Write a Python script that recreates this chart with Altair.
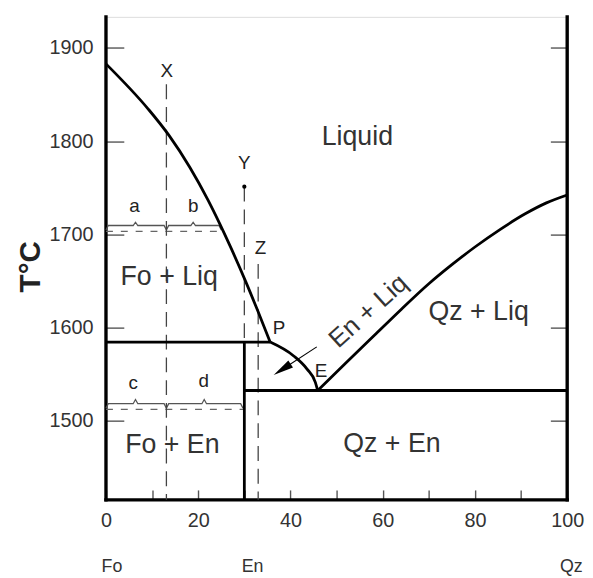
import altair as alt
import pandas as pd

# ---------------- data ----------------
X_MIN, X_MAX = 0, 100
T_MIN, T_MAX = 1414.5, 1933.5

y_ticks = [1500, 1600, 1700, 1800, 1900]
x_label_ticks = [0, 20, 40, 60, 80, 100]
x_minor_ticks = [10, 30, 50, 70, 90]

# Fo liquidus (Fo + Liq / Liquid boundary)
fo_liq_x = [0, 9.2, 13.7, 18.2, 22.1, 24.6, 27.1, 30.3, 32.8, 35.6]
fo_liq_t = [1883.0, 1834.2, 1805.9, 1771.7, 1736.9, 1711.9, 1685.2, 1649.0, 1619.0, 1584.0]

# En + Liq field boundary P -> E
pe_x = [35.6, 40.7, 43.6, 45.4, 45.9]
pe_t = [1584.0, 1569.1, 1555.0, 1540.8, 1532.0]

# Qz liquidus E -> 100
qz_liq_x = [45.9, 52.0, 58.6, 64.0, 70.0, 75.0, 80.0, 85.5, 90.8, 95.5, 100.0]
qz_liq_t = [1532.0, 1561.5, 1593.2, 1619.1, 1646.7, 1667.2, 1686.2, 1705.2, 1721.6, 1733.6, 1742.1]

T_PERITECTIC = 1584.0
T_EUTECTIC = 1532.0
X_EN = 30.0

# isopleths X, Y, Z
iso_x = [13.1, 30.0, 33.0]
iso_top = [1861.0, 1751.0, 1668.0]
iso_bottom = [T_MIN, T_PERITECTIC, T_MIN]

# tie lines
tie_t = [1703.0, 1511.7]
tie_x_end = [25.2, 29.7]

# braces: start, end, peak x, level T, peak T, end T
brace_x0 = [0.0, 13.1, 0.0, 13.1]
brace_x1 = [13.1, 25.0, 13.1, 29.7]
brace_pk = [6.4, 18.9, 6.4, 21.3]
brace_lvl = [1709.3, 1709.3, 1517.8, 1517.8]
brace_top = [1712.8, 1712.8, 1522.3, 1522.3]
brace_end = [1704.5, 1704.5, 1513.0, 1513.0]

# arrow along the P-E boundary
arrow_x = [45.7, 38.2]
arrow_t = [1578.9, 1554.5]

# point Y
dot_x = [30.0]
dot_t = [1751.0]

# labels
region_labels = ["Liquid", "Fo + Liq", "Fo + En", "Qz + En", "Qz + Liq"]
region_x = [54.5, 13.7, 14.4, 62.0, 80.8]
region_t = [1796.2, 1645.0, 1464.6, 1466.4, 1608.2]

small_labels = ["X", "Y", "Z", "a", "b", "c", "d", "P", "E"]
small_x = [13.2, 30.0, 33.5, 6.2, 18.9, 5.9, 21.2, 37.5, 46.6]
small_t = [1868.8, 1769.6, 1679.0, 1723.4, 1723.4, 1533.7, 1535.5, 1592.2, 1546.8]

comp_labels = ["Fo", "En", "Qz"]
comp_x = [1.3, 31.8, 100.9]
comp_t = [1336.9, 1336.9, 1336.9]

en_liq_label = ["En + Liq"]
en_liq_x = [56.9]
en_liq_t = [1617.0]

# ---------------- build tables ----------------
def seg_rows(name, xs, ts):
    return [{"seg": name, "i": i, "x": a, "t": b} for i, (a, b) in enumerate(zip(xs, ts))]

thick = []
thick += seg_rows("fo_liq", fo_liq_x, fo_liq_t)
thick += seg_rows("peri", [0, fo_liq_x[-1]], [T_PERITECTIC, T_PERITECTIC])
thick += seg_rows("pe", pe_x, pe_t)
thick += seg_rows("qz_liq", qz_liq_x, qz_liq_t)
thick += seg_rows("en", [X_EN, X_EN], [T_MIN, T_PERITECTIC])
thick += seg_rows("eut", [X_EN, X_MAX], [T_EUTECTIC, T_EUTECTIC])
thick_df = pd.DataFrame(thick)

frame = []
frame += seg_rows("left", [X_MIN, X_MIN], [T_MIN, T_MAX])
frame += seg_rows("right", [X_MAX, X_MAX], [T_MIN, T_MAX])
frame += seg_rows("bottom", [X_MIN, X_MAX], [T_MIN, T_MIN])
frame_df = pd.DataFrame(frame)

iso = []
for k, (xx, a, b) in enumerate(zip(iso_x, iso_top, iso_bottom)):
    iso += seg_rows(f"iso{k}", [xx, xx], [a, b])
iso_df = pd.DataFrame(iso)

tie = []
for k, (tt, xe) in enumerate(zip(tie_t, tie_x_end)):
    tie += seg_rows(f"tie{k}", [0, xe], [tt, tt])
tie_df = pd.DataFrame(tie)

br = []
for k in range(len(brace_x0)):
    x0, x1, pk = brace_x0[k], brace_x1[k], brace_pk[k]
    lv, tp, en = brace_lvl[k], brace_top[k], brace_end[k]
    xs = [x0, x0 + 0.5, pk - 0.5, pk, pk + 0.5, x1 - 0.5, x1]
    ts = [en, lv, lv, tp, lv, lv, en]
    br += seg_rows(f"br{k}", xs, ts)
br_df = pd.DataFrame(br)

arrow_df = pd.DataFrame(seg_rows("arrow", arrow_x, arrow_t))
head_df = pd.DataFrame({"x": [arrow_x[-1]], "t": [arrow_t[-1]]})
dot_df = pd.DataFrame({"x": dot_x, "t": dot_t})
region_df = pd.DataFrame({"label": region_labels, "x": region_x, "t": region_t})
small_df = pd.DataFrame({"label": small_labels, "x": small_x, "t": small_t})
comp_df = pd.DataFrame({"label": comp_labels, "x": comp_x, "t": comp_t})
enliq_df = pd.DataFrame({"label": en_liq_label, "x": en_liq_x, "t": en_liq_t})

# ---------------- scales / axes ----------------
FONT = "Liberation Sans"
PLOT_W, PLOT_H = 466, 488
xscale = alt.Scale(domain=[X_MIN, X_MAX], nice=False, zero=False)
yscale = alt.Scale(domain=[T_MIN, T_MAX], nice=False, zero=False)

x_axis = alt.Axis(orient="bottom", values=x_label_ticks, offset=-10, tickSize=10, domain=False,
                  grid=False, tickColor="#555", tickWidth=1.4, labelPadding=11,
                  labelFontSize=20, labelColor="#333", labelFont=FONT, title=None,
                  format="d", labelOverlap=False, labelFlush=False)
x_axis_minor = alt.Axis(orient="top", values=x_minor_ticks, offset=-PLOT_H, tickSize=10, domain=False,
                        grid=False, tickColor="#555", tickWidth=1.4, labels=False, title=None)
y_axis = alt.Axis(orient="left", values=y_ticks, offset=-18, tickSize=18, domain=False,
                  grid=False, tickColor="#555", tickWidth=1.4, labelPadding=13,
                  labelFontSize=20, labelColor="#333", labelFont=FONT, format="d",
                  title="T°C", titleFontSize=30, titleFont=FONT, titleFontWeight="bold",
                  titleColor="#222", titleX=-94, titleY=252, titleBaseline="middle",
                  titleAngle=270, titleAlign="center")
y_axis_r = alt.Axis(orient="right", values=y_ticks, offset=-17, tickSize=17, domain=False,
                    grid=False, tickColor="#555", tickWidth=1.4, labels=False, title=None)

Xn = alt.X("x:Q", scale=xscale, axis=None)
Yn = alt.Y("t:Q", scale=yscale, axis=None)

frame_layer = alt.Chart(frame_df).mark_line(color="black", strokeWidth=3.4, strokeCap="square").encode(
    x=alt.X("x:Q", scale=xscale, axis=x_axis),
    y=alt.Y("t:Q", scale=yscale, axis=y_axis),
    detail="seg:N", order="i:Q")
right_axis_layer = alt.Chart(frame_df).mark_line(opacity=0).encode(
    x=alt.X("x:Q", scale=xscale, axis=x_axis_minor),
    y=alt.Y("t:Q", scale=yscale, axis=y_axis_r),
    detail="seg:N", order="i:Q")

thick_layer = alt.Chart(thick_df).mark_line(color="black", strokeWidth=2.8, interpolate="monotone").encode(
    x=Xn, y=Yn, detail="seg:N", order="i:Q")
iso_layer = alt.Chart(iso_df).mark_line(color="#444", strokeWidth=1.3, strokeDash=[15, 8]).encode(
    x=Xn, y=Yn, detail="seg:N", order="i:Q")
tie_layer = alt.Chart(tie_df).mark_line(color="#666", strokeWidth=1.3, strokeDash=[7, 8]).encode(
    x=Xn, y=Yn, detail="seg:N", order="i:Q")
br_layer = alt.Chart(br_df).mark_line(color="#555", strokeWidth=1.3).encode(
    x=Xn, y=Yn, detail="seg:N", order="i:Q")
arrow_layer = alt.Chart(arrow_df).mark_line(color="black", strokeWidth=1.1).encode(
    x=Xn, y=Yn, detail="seg:N", order="i:Q")
head_layer = alt.Chart(head_df).mark_point(
    shape="M0,-1L0.42,1L-0.42,1Z", size=420, filled=True, color="black", opacity=1, angle=237
).encode(x=Xn, y=Yn)
dot_layer = alt.Chart(dot_df).mark_point(shape="circle", size=18, filled=True, color="black", opacity=1).encode(
    x=Xn, y=Yn)

region_layer = alt.Chart(region_df).mark_text(font=FONT, fontSize=27, color="#333", baseline="alphabetic",
                                               align="center").encode(x=Xn, y=Yn, text="label:N")
small_layer = alt.Chart(small_df).mark_text(font=FONT, fontSize=19, color="#222", baseline="alphabetic",
                                             align="center").encode(x=Xn, y=Yn, text="label:N")
comp_layer = alt.Chart(comp_df).mark_text(font=FONT, fontSize=18, color="#333", baseline="alphabetic",
                                           align="center").encode(x=Xn, y=Yn, text="label:N")
enliq_layer = alt.Chart(enliq_df).mark_text(font=FONT, fontSize=26, color="#333", baseline="middle",
                                             align="center", angle=318).encode(x=Xn, y=Yn, text="label:N")

chart = alt.layer(
    frame_layer, right_axis_layer, tie_layer, br_layer, iso_layer, thick_layer, arrow_layer,
    head_layer, dot_layer, region_layer, small_layer, comp_layer, enliq_layer
).properties(
    width=PLOT_W, height=PLOT_H,
    autosize=alt.AutoSizeParams(type="none"),
    padding={"left": 99, "top": 6, "right": 18, "bottom": 74},
).configure_view(stroke=None).configure(background="white")

chart.save("out.html", embed_options={"renderer": "svg", "actions": False})
